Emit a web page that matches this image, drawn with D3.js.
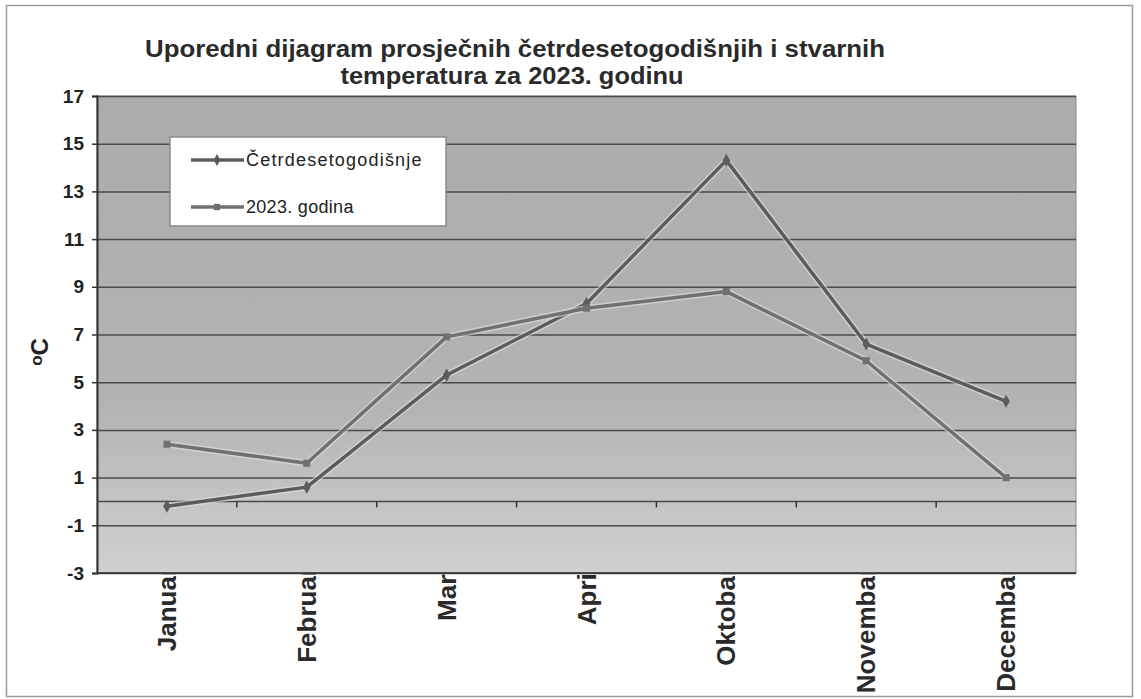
<!DOCTYPE html>
<html>
<head>
<meta charset="utf-8">
<script src="https://cdn.jsdelivr.net/npm/d3@7"></script>
<style>
  body { margin: 0; background: #fff; }
  text { font-family: "Liberation Sans", Arial, sans-serif; }
</style>
</head>
<body>
<div id="chart"></div>
<script>
// data
let months = ["Januar", "Februar", "Mart", "April", "Oktobar", "Novembar", "Decembar"];
let cetrdeset = [-0.2, 0.6, 5.3, 8.3, 14.3, 6.6, 4.2];
let god2023 = [2.4, 1.6, 6.9, 8.1, 8.8, 5.9, 1.0];
let yTicks = [-3, -1, 1, 3, 5, 7, 9, 11, 13, 15, 17];
let seriesNames = ["Četrdesetogodišnje", "2023. godina"];

let w = 1141;
let h = 699;
let pLeft = 97, pRight = 1076, pTop = 96, pBottom = 573;

let svg = d3.select("#chart")
    .append("svg")
    .attr("width", w)
    .attr("height", h);

// outer frame
svg.append("rect")
    .attr("x", 6.5).attr("y", 5.5)
    .attr("width", 1126).attr("height", 691)
    .attr("fill", "#fff")
    .attr("stroke", "#9a9a9a")
    .attr("stroke-width", 1.5);

let x = d3.scaleBand().domain(months).range([pLeft, pRight]);
let y = d3.scaleLinear().domain([-3, 17]).range([pBottom, pTop]);

// category labels (drawn first, the plot area hides their ends like in the scan)
svg.selectAll("text.month")
    .data(months)
    .enter()
    .append("text")
    .attr("class", "month")
    .text(function (d) { return d; })
    .attr("transform", function (d) {
        return "translate(" + (x(d) + x.bandwidth() / 2 + 9) + "," + 566 + ") rotate(-90)";
    })
    .attr("text-anchor", "end")
    .attr("font-size", "26px")
    .attr("font-weight", "bold")
    .attr("fill", "#2a2a2a");

let grad = svg.append("defs").append("linearGradient")
    .attr("id", "bg").attr("x1", 0).attr("y1", 0).attr("x2", 0).attr("y2", 1);
grad.append("stop").attr("offset", "0%").attr("stop-color", "#acacac");
grad.append("stop").attr("offset", "65%").attr("stop-color", "#b3b3b3");
grad.append("stop").attr("offset", "85%").attr("stop-color", "#c4c4c4");
grad.append("stop").attr("offset", "100%").attr("stop-color", "#d0d0d0");

// plot area
svg.append("rect")
    .attr("x", pLeft).attr("y", pTop)
    .attr("width", pRight - pLeft).attr("height", pBottom - pTop)
    .attr("fill", "url(#bg)")
    .attr("stroke", "#8a8a8a")
    .attr("stroke-width", 1);

// gridlines
svg.append("g")
    .attr("transform", "translate(" + pLeft + ",0)")
    .call(d3.axisLeft(y).tickValues(yTicks).tickSize(-(pRight - pLeft)).tickFormat(""))
    .call(function (g) {
        g.select(".domain").remove();
        g.selectAll("line").attr("stroke", "#4a4a4a").attr("stroke-width", 1.5);
    });

// y axis with ticks + labels
svg.append("g")
    .attr("transform", "translate(" + pLeft + ",0)")
    .call(d3.axisLeft(y).tickValues(yTicks).tickSize(5).tickPadding(8)
        .tickFormat(function (d) { return String(d); }))
    .call(function (g) {
        g.select(".domain").attr("stroke", "#333").attr("stroke-width", 2);
        g.selectAll("line").attr("stroke", "#333").attr("stroke-width", 1.5);
        g.selectAll("text")
            .attr("font-size", "19px")
            .attr("font-weight", "bold")
            .attr("fill", "#222")
            .attr("font-family", "Liberation Sans, Arial, sans-serif");
    });

// category axis crosses at 0
let zero = y(0);
svg.append("line")
    .attr("x1", pLeft).attr("x2", pRight)
    .attr("y1", zero).attr("y2", zero)
    .attr("stroke", "#4a4a4a").attr("stroke-width", 1.5);

svg.selectAll("line.ctick")
    .data(months.slice(1))
    .enter()
    .append("line")
    .attr("class", "ctick")
    .attr("x1", function (d) { return x(d); })
    .attr("x2", function (d) { return x(d); })
    .attr("y1", zero).attr("y2", zero + 6)
    .attr("stroke", "#333").attr("stroke-width", 1.5);

// bottom axis line
svg.append("line")
    .attr("x1", pLeft).attr("x2", pRight)
    .attr("y1", pBottom).attr("y2", pBottom)
    .attr("stroke", "#333").attr("stroke-width", 1.5);

let cx = function (d, i) { return x(months[i]) + x.bandwidth() / 2; };

let line = d3.line()
    .x(cx)
    .y(function (d) { return y(d); });

let series = [
    { name: seriesNames[0], values: cetrdeset, color: "#5c5c5c", marker: d3.symbolDiamond },
    { name: seriesNames[1], values: god2023, color: "#707070", marker: d3.symbolSquare }
];

series.forEach(function (s) {
    svg.append("path")
        .datum(s.values)
        .attr("d", line)
        .attr("fill", "none")
        .attr("stroke", "#e6e6e6")
        .attr("stroke-width", 6.5)
        .attr("opacity", 0.55);
    svg.append("path")
        .datum(s.values)
        .attr("d", line)
        .attr("fill", "none")
        .attr("stroke", s.color)
        .attr("stroke-width", 3.5)
        .attr("stroke-linejoin", "round");
    svg.selectAll(null)
        .data(s.values)
        .enter()
        .append("path")
        .attr("d", d3.symbol().type(s.marker).size(50))
        .attr("transform", function (d, i) {
            return "translate(" + cx(d, i) + "," + y(d) + ")";
        })
        .attr("fill", s.color);
});

// legend
let lg = svg.append("g");
lg.append("rect")
    .attr("x", 170).attr("y", 137)
    .attr("width", 276).attr("height", 89)
    .attr("fill", "#fff")
    .attr("stroke", "#8a8a8a")
    .attr("stroke-width", 1.5);

series.forEach(function (s, i) {
    let ly = 160 + i * 47;
    lg.append("line")
        .attr("x1", 191).attr("x2", 244)
        .attr("y1", ly).attr("y2", ly)
        .attr("stroke", s.color)
        .attr("stroke-width", 3.5);
    lg.append("path")
        .attr("d", d3.symbol().type(s.marker).size(40))
        .attr("transform", "translate(217," + ly + ")")
        .attr("fill", s.color);
    lg.append("text")
        .text(s.name)
        .attr("x", 246)
        .attr("y", ly + 6)
        .attr("font-size", "18px")
        .attr("letter-spacing", i === 0 ? "1.2px" : "0.3px")
        .attr("fill", "#222");
});

// title
let title = ["Uporedni dijagram prosječnih četrdesetogodišnjih i stvarnih", "temperatura za 2023. godinu"];
let titleWidth = [740, 343];
svg.selectAll("text.title")
    .data(title)
    .enter()
    .append("text")
    .attr("class", "title")
    .text(function (d) { return d; })
    .attr("x", function (d, i) { return i === 0 ? 515 : 512; })
    .attr("y", function (d, i) { return 57 + i * 27; })
    .attr("text-anchor", "middle")
    .attr("textLength", function (d, i) { return titleWidth[i]; })
    .attr("lengthAdjust", "spacingAndGlyphs")
    .attr("font-size", "24px")
    .attr("font-weight", "bold")
    .attr("fill", "#2a2a2a");

// y axis title
let yt = svg.append("text")
    .attr("transform", "translate(48,352) rotate(-90)")
    .attr("text-anchor", "middle")
    .attr("font-size", "24px")
    .attr("font-weight", "bold")
    .attr("fill", "#222");
yt.append("tspan").text("o").attr("font-size", "17px").attr("dy", "-6");
yt.append("tspan").text("C").attr("dy", "6");
</script>
</body>
</html>
